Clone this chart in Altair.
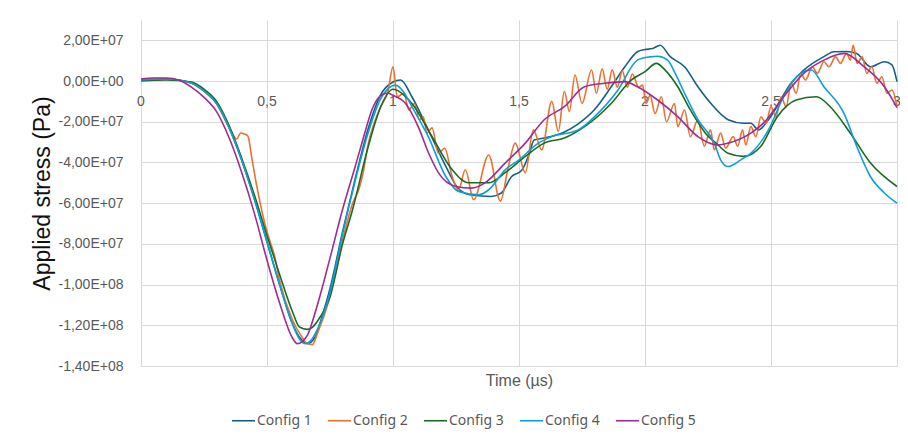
import altair as alt
import pandas as pd

# ---- data (stress values in units of 1e7 Pa) ----
series_names = ["Config 1", "Config 2", "Config 3", "Config 4", "Config 5"]
colors = ["#156082", "#E97132", "#196B24", "#0F9ED5", "#A02B93"]

c1_t = [0, 0.1, 0.2, 0.25, 0.3, 0.35, 0.4, 0.45, 0.5, 0.55, 0.6, 0.63, 0.66, 0.69, 0.72, 0.75, 0.8, 0.85, 0.9, 0.95,
        1.0, 1.03, 1.075, 1.14, 1.21, 1.26, 1.31, 1.39, 1.43, 1.47, 1.51, 1.54, 1.56, 1.6, 1.68, 1.735, 1.8, 1.866, 1.92, 1.97,
        2.0, 2.03, 2.06, 2.1, 2.157, 2.21, 2.26, 2.33, 2.39, 2.42, 2.45, 2.49, 2.58, 2.63, 2.71, 2.75, 2.8, 2.84, 2.895, 2.95,
        2.98, 3.0]
c1_v = [0.05, 0.1, -0.1, -0.5, -1.1, -2.3, -3.9, -5.8, -7.9, -10.0, -11.9, -12.6, -12.9, -12.6, -11.5, -10.2, -7.4, -4.8, -2.4, -0.7,
        -0.05, 0.05, -0.77, -2.4, -4.2, -5.3, -5.6, -5.67, -5.5, -4.7, -4.4, -3.6, -2.9, -2.8, -2.5, -2.1, -1.4, -0.28, 0.7, 1.44,
        1.55, 1.6, 1.76, 1.2, 0.7, -0.28, -1.08, -1.9, -2.07, -2.07, -2.4, -1.9, -0.1, 0.54, 1.2, 1.44, 1.45, 1.36, 0.7, 0.95,
        0.8, -0.03]

c2_t = [0, 0.1, 0.2, 0.25, 0.3, 0.35, 0.38, 0.395, 0.41, 0.424, 0.44, 0.46, 0.5, 0.51, 0.53, 0.55, 0.6, 0.64, 0.66, 0.68,
        0.7, 0.75, 0.8, 0.84, 0.865, 0.88, 0.9, 0.95, 0.98, 1.0, 1.017, 1.043, 1.063, 1.085, 1.105, 1.12, 1.135, 1.155, 1.18, 1.205,
        1.235, 1.26, 1.287, 1.32, 1.38, 1.426, 1.458, 1.485, 1.525, 1.557, 1.59, 1.63, 1.656, 1.68, 1.70, 1.722, 1.75, 1.788, 1.807, 1.83,
        1.85, 1.87, 1.89, 1.91, 1.93, 1.95, 1.975, 1.99, 2.005, 2.02, 2.04, 2.065, 2.085, 2.117, 2.13, 2.157, 2.18, 2.21, 2.235, 2.26,
        2.275, 2.30, 2.32, 2.35, 2.368, 2.387, 2.40, 2.42, 2.44, 2.46, 2.48, 2.50, 2.52, 2.54, 2.56, 2.58, 2.60, 2.618, 2.637, 2.664,
        2.684, 2.71, 2.73, 2.756, 2.776, 2.80, 2.815, 2.826, 2.842, 2.862, 2.88, 2.90, 2.92, 2.94, 2.96, 2.98, 3.0]
c2_v = [0.05, 0.1, -0.1, -0.5, -1.1, -2.3, -2.85, -2.55, -2.6, -2.7, -3.8, -5.2, -7.4, -7.8, -8.6, -9.8, -11.7, -12.6, -12.9, -12.95,
        -12.4, -10.6, -7.8, -6.0, -5.3, -4.6, -3.2, -1.3, -0.5, 0.7, -0.77, -0.6, -1.42, -1.1, -1.9, -1.75, -2.56, -2.3, -3.55, -3.3,
        -4.7, -5.34, -4.36, -5.83, -3.63, -5.9, -4.2, -3.05, -4.5, -2.4, -3.38, -1.0, -2.48, -0.5, -1.5, 0.3, -1.1, 0.54, -0.6, 0.6,
        -0.4, 0.55, -0.3, 0.5, -0.3, 0.35, -0.3, -0.2, -1.1, -0.7, -1.6, -0.77, -2.0, -1.1, -2.24, -1.42, -2.73, -1.9, -3.2, -2.4,
        -3.38, -2.56, -3.3, -2.73, -3.2, -2.4, -3.14, -2.24, -2.73, -1.75, -2.07, -1.26, -1.75, -0.77, -1.26, -0.11, -0.6, 0.38, 0.05, 0.7,
        0.38, 0.95, 0.7, 1.19, 0.87, 1.36, 1.03, 1.76, 0.87, 1.19, 0.38, 0.7, -0.11, 0.21, -0.6, -0.44, -1.26]

c3_t = [0, 0.1, 0.2, 0.25, 0.3, 0.35, 0.4, 0.45, 0.5, 0.55, 0.6, 0.63, 0.66, 0.68, 0.7, 0.75, 0.8, 0.84, 0.9, 0.95,
        1.0, 1.075, 1.155, 1.235, 1.3, 1.38, 1.445, 1.525, 1.6, 1.68, 1.76, 1.866, 1.945, 2.0, 2.045, 2.08, 2.13, 2.18, 2.24, 2.29,
        2.33, 2.39, 2.46, 2.525, 2.6, 2.68, 2.735, 2.815, 2.895, 3.0]
c3_v = [0.0, 0.05, -0.05, -0.4, -1.0, -2.2, -3.8, -5.6, -7.6, -9.5, -11.3, -12.1, -12.2, -12.1, -11.8, -10.6, -8.0, -6.3, -3.3, -1.3,
        -0.4, -1.1, -2.73, -4.36, -5.0, -5.0, -4.5, -3.7, -3.05, -2.8, -2.24, -1.1, 0.05, 0.46, 0.87, 0.54, -0.28, -1.42, -2.56, -3.14,
        -3.55, -3.7, -3.2, -1.75, -0.93, -0.77, -1.26, -2.56, -4.03, -5.18]

c4_t = [0, 0.1, 0.2, 0.25, 0.3, 0.35, 0.4, 0.45, 0.5, 0.55, 0.6, 0.63, 0.65, 0.67, 0.7, 0.75, 0.8, 0.85, 0.9, 0.95,
        1.01, 1.04, 1.075, 1.14, 1.21, 1.26, 1.34, 1.38, 1.445, 1.5, 1.577, 1.63, 1.735, 1.8, 1.893, 1.97, 2.02, 2.05, 2.09, 2.12,
        2.157, 2.21, 2.275, 2.3, 2.33, 2.38, 2.42, 2.49, 2.55, 2.617, 2.66, 2.71, 2.79, 2.84, 2.895, 2.95, 3.0]
c4_v = [0.05, 0.1, -0.1, -0.5, -1.1, -2.3, -3.9, -5.8, -7.9, -10.0, -11.9, -12.7, -12.9, -12.8, -12.2, -10.4, -7.5, -4.9, -2.6, -0.9,
        -0.2, -0.5, -1.26, -2.73, -4.7, -5.42, -5.59, -5.34, -4.36, -3.87, -3.05, -2.73, -2.4, -1.75, -0.44, 1.03, 1.19, 1.22, 1.03, 0.38,
        -0.6, -1.9, -3.05, -3.87, -4.2, -3.87, -3.55, -2.4, -0.77, 0.38, 0.54, -0.28, -1.6, -3.2, -4.7, -5.5, -6.0]

c5_t = [0, 0.05, 0.1, 0.15, 0.2, 0.25, 0.3, 0.35, 0.4, 0.45, 0.5, 0.55, 0.6, 0.62, 0.64, 0.66, 0.7, 0.75, 0.8, 0.85,
        0.88, 0.92, 0.96, 0.98, 1.0, 1.05, 1.1, 1.14, 1.18, 1.25, 1.31, 1.365, 1.445, 1.525, 1.6, 1.68, 1.76, 1.84, 1.92, 1.97,
        2.05, 2.13, 2.21, 2.29, 2.33, 2.42, 2.47, 2.55, 2.63, 2.71, 2.79, 2.87, 2.95, 3.0]
c5_v = [0.1, 0.15, 0.15, 0.05, -0.3, -0.8, -1.5, -2.8, -4.5, -6.5, -8.8, -10.9, -12.6, -12.9, -12.8, -12.5, -11.0, -8.7, -6.3, -4.2,
        -2.9, -1.3, -0.65, -0.6, -0.7, -1.1, -2.24, -3.5, -4.5, -5.18, -5.26, -5.0, -4.03, -3.05, -1.9, -1.26, -0.28, -0.11, -0.03, -0.28,
        -0.93, -1.75, -2.73, -3.14, -3.05, -2.56, -2.07, -0.77, 0.38, 1.03, 1.36, 0.7, -0.28, -1.3]

y_ticks = [20000000, 0, -20000000, -40000000, -60000000, -80000000, -100000000, -120000000, -140000000]
y_tick_labels = ["2,00E+07", "0,00E+00", "-2,00E+07", "-4,00E+07", "-6,00E+07", "-8,00E+07",
                 "-1,00E+08", "-1,20E+08", "-1,40E+08"]
x_ticks = [0, 0.5, 1, 1.5, 2, 2.5, 3]
x_tick_labels = ["0", "0,5", "1", "1,5", "2", "2,5", "3"]

# ---- tables ----
rows = []
for name, ts, vs in zip(series_names, [c1_t, c2_t, c3_t, c4_t, c5_t], [c1_v, c2_v, c3_v, c4_v, c5_v]):
    for t, v in zip(ts, vs):
        rows.append({"series": name, "t": t, "stress": v * 1e7})
df = pd.DataFrame(rows)

xlab_df = pd.DataFrame({"t": x_ticks, "label": x_tick_labels, "stress": [0] * len(x_ticks)})

label_expr = ""
for val, lab in zip(y_ticks, y_tick_labels):
    label_expr += f"datum.value == {val} ? '{lab}' : "
label_expr += "''"

FONT = "Liberation Sans"

x_enc = alt.X(
    "t:Q",
    scale=alt.Scale(domain=[0, 3], nice=False, zero=False),
    axis=alt.Axis(values=x_ticks, labels=False, ticks=False, domain=False, grid=True,
                  gridColor="#d9d9d9", gridWidth=1, title="Time (µs)", titleFont=FONT,
                  titleFontSize=16, titleFontWeight="normal", titleColor="#595959", titlePadding=6),
)
y_enc = alt.Y(
    "stress:Q",
    scale=alt.Scale(domain=[-140000000, 30000000], nice=False, zero=False),
    axis=alt.Axis(values=y_ticks, labelExpr=label_expr, ticks=False, tickSize=0, domain=False, grid=True,
                  gridColor="#d9d9d9", gridWidth=1, labelFont=FONT, labelFontSize=14, labelColor="#595959",
                  labelPadding=18, title="Applied stress (Pa)", titleFont=FONT, titleFontSize=23,
                  titleFontWeight="normal", titleColor="#111111", titlePadding=4),
)

xlabels = alt.Chart(xlab_df).mark_text(
    font=FONT, fontSize=14, color="#595959", dy=21, baseline="middle", align="center"
).encode(x=x_enc, y=y_enc, text="label:N")

lines = alt.Chart(df).mark_line(interpolate="monotone").encode(
    x=x_enc,
    y=y_enc,
    color=alt.Color(
        "series:N",
        scale=alt.Scale(domain=series_names, range=colors),
        legend=alt.Legend(orient="none", legendX=90, legendY=388, direction="horizontal", title=None,
                          symbolType="stroke", symbolSize=529, symbolStrokeWidth=2,
                          labelFont="Noto Sans", labelFontSize=14, labelColor="#595959",
                          columnPadding=12, labelOffset=1),
    ),
    strokeWidth=alt.StrokeWidth("series:N",
                                scale=alt.Scale(domain=series_names, range=[1.6, 1.6, 2.6, 1.6, 1.6]),
                                legend=None),
    order=alt.Order("t:Q"),
)

chart = alt.layer(xlabels, lines).properties(
    width=756,
    height=346,
    padding={"left": 133, "top": 12, "right": 3, "bottom": 68},
    autosize=alt.AutoSizeParams(type="none"),
    background="white",
).configure_view(stroke=None)

chart.save("out.html", embed_options={"renderer": "svg", "actions": False})
